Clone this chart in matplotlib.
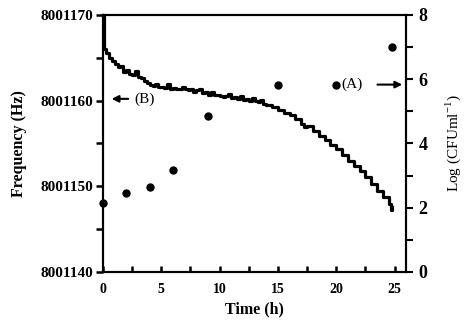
import matplotlib
matplotlib.use("Agg")
import matplotlib.pyplot as plt
from matplotlib.ticker import MultipleLocator, FormatStrFormatter

plt.rcParams['font.family'] = ['Liberation Serif', 'DejaVu Serif']

# Frequency trace (B), left axis
time_h = [0.0, 0.05, 0.25, 0.5, 0.75, 1.0, 1.25, 1.5, 1.75, 2.0, 2.25, 2.5, 2.75, 3.0,
          3.25, 3.5, 3.75, 4.0, 4.25, 4.5, 4.75, 5.0, 5.25, 5.5, 5.75, 6.0, 6.25, 6.5,
          6.75, 7.0, 7.25, 7.5, 7.75, 8.0, 8.25, 8.5, 8.75, 9.0, 9.25, 9.5, 9.75, 10.0,
          10.25, 10.5, 10.75, 11.0, 11.25, 11.5, 11.75, 12.0, 12.25, 12.5, 12.75, 13.0,
          13.25, 13.5, 13.75, 14.0, 14.5, 15.0, 15.5, 16.0, 16.5, 17.0, 17.25, 17.5,
          18.0, 18.5, 19.0, 19.5, 20.0, 20.5, 21.0, 21.5, 22.0, 22.5, 23.0, 23.5, 24.0,
          24.5, 24.7, 24.8]
freq_hz = [8001170.0, 8001166.0, 8001165.6, 8001165.0, 8001164.6, 8001164.3, 8001163.9,
           8001164.0, 8001163.3, 8001163.6, 8001163.1, 8001163.0, 8001163.4, 8001162.7,
           8001162.6, 8001162.3, 8001162.0, 8001161.8, 8001161.7, 8001161.9, 8001161.6,
           8001161.6, 8001161.5, 8001161.9, 8001161.4, 8001161.5, 8001161.4, 8001161.3,
           8001161.6, 8001161.3, 8001161.2, 8001161.3, 8001161.0, 8001161.2, 8001161.4,
           8001160.9, 8001161.0, 8001160.7, 8001161.0, 8001160.6, 8001160.6, 8001160.5,
           8001160.4, 8001160.5, 8001160.8, 8001160.3, 8001160.4, 8001160.2, 8001160.5,
           8001160.1, 8001160.2, 8001160.0, 8001160.3, 8001159.9, 8001159.8, 8001160.1,
           8001159.6, 8001159.5, 8001159.2, 8001158.95, 8001158.6, 8001158.3, 8001157.8,
           8001157.3, 8001156.9, 8001157.0, 8001156.4, 8001155.9, 8001155.4, 8001154.85,
           8001154.3, 8001153.7, 8001153.0, 8001152.4, 8001151.8, 8001151.1, 8001150.3,
           8001149.5, 8001148.7, 8001147.9, 8001147.2, 8001147.6]

# Cell counts (A), right axis
count_time_h = [0, 2, 4, 6, 9, 15, 20, 24.8]
log_cfu = [2.15, 2.46, 2.65, 3.18, 4.86, 5.83, 5.83, 7.0]

fig = plt.figure(figsize=(4.65, 3.23), dpi=100)
ax = fig.add_axes([0.2215, 0.158, 0.652, 0.796])
ax2 = ax.twinx()

ax.plot(time_h, freq_hz, drawstyle='steps-post', color='black', lw=2.3, clip_on=False, zorder=3)
ax2.plot(count_time_h, log_cfu, 'o', color='black', ms=5.0, clip_on=False)

ax.set_xlim(0, 26)
ax.set_ylim(8001140, 8001170)
ax2.set_ylim(0, 8)

ax.xaxis.set_major_locator(MultipleLocator(5))
ax.xaxis.set_minor_locator(MultipleLocator(2.5))
ax.yaxis.set_major_locator(MultipleLocator(10))
ax.yaxis.set_minor_locator(MultipleLocator(5))
ax.yaxis.set_major_formatter(FormatStrFormatter('%d'))
ax2.yaxis.set_major_locator(MultipleLocator(2))
ax2.yaxis.set_minor_locator(MultipleLocator(1))

for a in (ax, ax2):
    for s in a.spines.values():
        s.set_linewidth(1.5)

ax.tick_params(axis='x', which='both', direction='in', length=4.5, width=1.8, labelsize=10, pad=8)
ax.tick_params(axis='y', which='both', direction='out', length=5, width=1.8, labelsize=11, pad=2)
ax2.tick_params(axis='y', which='both', direction='out', length=5, width=1.5, labelsize=13, pad=4)
for lab in ax.get_xticklabels() + ax.get_yticklabels() + ax2.get_yticklabels():
    lab.set_fontweight('bold')

ax.set_xlabel('Time (h)', fontsize=11.5, fontweight='bold', labelpad=4)
ax.set_ylabel('Frequency (Hz)', fontsize=11.5, fontweight='bold', labelpad=10)
ax2.set_ylabel('Log (CFUml$^{\\mathregular{-1}}$)', fontsize=11, labelpad=11)

ax.annotate('', xy=(0.5, 8001160.2), xytext=(2.4, 8001160.2),
            arrowprops=dict(arrowstyle='-|>', color='black', lw=1.5, mutation_scale=10))
ax.text(2.65, 8001160.1, '(B)', fontsize=11, va='center', ha='left')
ax2.text(20.4, 5.83, '(A)', fontsize=11, va='center', ha='left')
ax2.annotate('', xy=(25.9, 5.83), xytext=(23.3, 5.83),
             arrowprops=dict(arrowstyle='-|>', color='black', lw=1.5, mutation_scale=10))

fig.savefig('out.png', dpi=100)
